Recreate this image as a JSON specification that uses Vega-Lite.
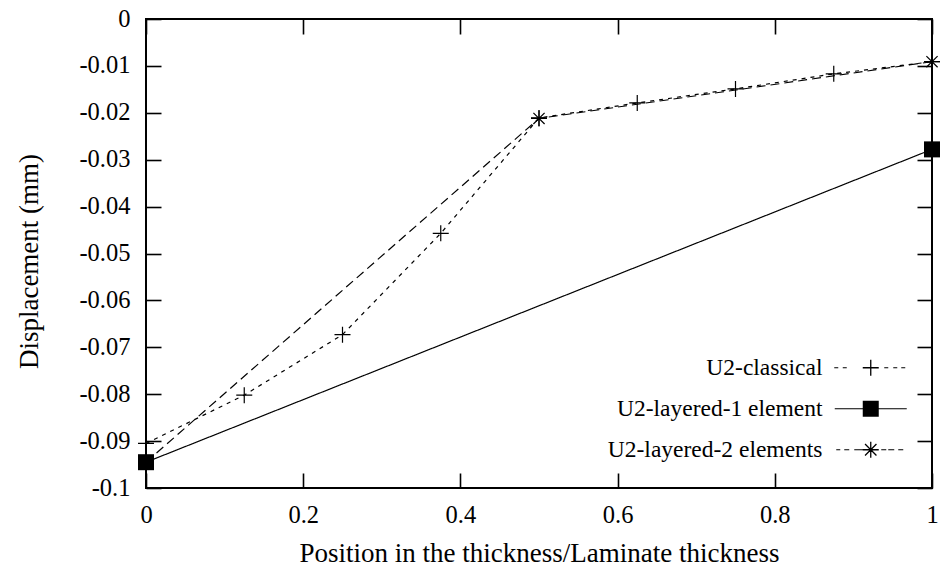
{
  "$schema": "https://vega.github.io/schema/vega-lite/v6.json",
  "width": 786,
  "height": 469,
  "autosize": "none",
  "padding": {"left": 146, "top": 19, "right": 8, "bottom": 80},
  "background": "white",
  "config": {
    "font": "Liberation Serif",
    "view": {"stroke": "black", "strokeWidth": 2},
    "axis": {
      "grid": false,
      "domain": false,
      "tickColor": "black",
      "tickWidth": 1.6,
      "tickSize": -15,
      "labelFont": "Liberation Serif",
      "labelFontSize": 24.5,
      "labelColor": "black",
      "labelOverlap": false,
      "labelFlush": false,
      "titleFont": "Liberation Serif",
      "titleFontSize": 27,
      "titleFontWeight": "normal",
      "titleColor": "black"
    }
  },
  "data": {
    "values": [
      {"series": "U2-classical", "x": 0, "y": -0.0905},
      {"series": "U2-classical", "x": 0.125, "y": -0.0802},
      {"series": "U2-classical", "x": 0.25, "y": -0.0673},
      {"series": "U2-classical", "x": 0.375, "y": -0.0457},
      {"series": "U2-classical", "x": 0.5, "y": -0.0211},
      {"series": "U2-classical", "x": 0.625, "y": -0.0179},
      {"series": "U2-classical", "x": 0.75, "y": -0.0149},
      {"series": "U2-classical", "x": 0.875, "y": -0.0117},
      {"series": "U2-classical", "x": 1, "y": -0.0091},
      {"series": "U2-layered-1 element", "x": 0, "y": -0.0945},
      {"series": "U2-layered-1 element", "x": 1, "y": -0.0278},
      {"series": "U2-layered-2 elements", "x": 0, "y": -0.0945},
      {"series": "U2-layered-2 elements", "x": 0.5, "y": -0.0212},
      {"series": "U2-layered-2 elements", "x": 1, "y": -0.0091}
    ]
  },
  "layer": [
    {
      "mark": {"type": "line", "strokeWidth": 1.2, "color": "black"},
      "encoding": {
        "x": {
          "field": "x", "type": "quantitative",
          "scale": {"domain": [0, 1], "nice": false},
          "axis": {
            "orient": "bottom",
            "values": [0, 0.2, 0.4, 0.6, 0.8, 1],
            "format": "~g",
            "labelPadding": 30,
            "title": "Position in the thickness/Laminate thickness",
            "titleBaseline": "alphabetic",
            "titleY": 73
          }
        },
        "y": {
          "field": "y", "type": "quantitative",
          "scale": {"domain": [-0.1, 0], "nice": false, "zero": false},
          "axis": {
            "orient": "left",
            "values": [0, -0.01, -0.02, -0.03, -0.04, -0.05, -0.06, -0.07, -0.08, -0.09, -0.1],
            "labelExpr": "datum.value == 0 ? '0' : '-' + format(-datum.value, '.2~f')",
            "labelPadding": 31,
            "title": "Displacement (mm)",
            "titleAngle": -90,
            "titleBaseline": "alphabetic",
            "titleX": -109,
            "titleY": 242
          }
        },
        "strokeDash": {
          "field": "series", "type": "nominal",
          "scale": {
            "domain": ["U2-layered-1 element", "U2-classical", "U2-layered-2 elements"],
            "range": [[1, 0], [4, 5], [9, 5]]
          },
          "legend": null
        }
      }
    },
    {
      "transform": [{"filter": "datum.series === 'U2-classical'"}],
      "mark": {"type": "point", "shape": "M-1,0H1M0,-1V1", "fill": "transparent", "stroke": "black", "strokeWidth": 1.2, "opacity": 1, "size": 256},
      "encoding": {
        "x": {
          "field": "x", "type": "quantitative",
          "scale": {"domain": [0, 1], "nice": false},
          "axis": {"orient": "top", "values": [0, 0.2, 0.4, 0.6, 0.8, 1], "labels": false, "title": null}
        },
        "y": {
          "field": "y", "type": "quantitative",
          "scale": {"domain": [-0.1, 0], "nice": false, "zero": false},
          "axis": {"orient": "right", "values": [0, -0.01, -0.02, -0.03, -0.04, -0.05, -0.06, -0.07, -0.08, -0.09, -0.1], "labels": false, "title": null}
        }
      }
    },
    {
      "transform": [{"filter": "datum.series === 'U2-layered-1 element'"}],
      "mark": {"type": "point", "shape": "square", "filled": true, "color": "black", "opacity": 1, "size": 256},
      "encoding": {
        "x": {"field": "x", "type": "quantitative", "scale": {"domain": [0, 1], "nice": false}, "axis": null},
        "y": {"field": "y", "type": "quantitative", "scale": {"domain": [-0.1, 0], "nice": false, "zero": false}, "axis": null}
      }
    },
    {
      "transform": [{"filter": "datum.series === 'U2-layered-2 elements'"}],
      "mark": {"type": "point", "shape": "M-1,0H1M0,-1V1M-0.7,-0.7L0.7,0.7M-0.7,0.7L0.7,-0.7", "fill": "transparent", "stroke": "black", "strokeWidth": 1.2, "opacity": 1, "size": 256},
      "encoding": {
        "x": {"field": "x", "type": "quantitative", "scale": {"domain": [0, 1], "nice": false}, "axis": null},
        "y": {"field": "y", "type": "quantitative", "scale": {"domain": [-0.1, 0], "nice": false, "zero": false}, "axis": null}
      }
    },
    {
      "transform": [{"filter": "false"}],
      "mark": {"type": "point", "filled": true, "color": "black", "size": 400},
      "encoding": {
        "x": {"field": "x", "type": "quantitative", "scale": {"domain": [0, 1], "nice": false}, "axis": null},
        "y": {"field": "y", "type": "quantitative", "scale": {"domain": [-0.1, 0], "nice": false, "zero": false}, "axis": null},
        "shape": {
          "field": "series", "type": "nominal",
          "scale": {
            "domain": ["U2-classical", "U2-layered-1 element", "U2-layered-2 elements"],
            "range": [
              "M-3.65,-0.06H-3.25V0.06H-3.65ZM-2.8,-0.06H-2.4V0.06H-2.8ZM-0.8,-0.065H0.8V0.065H-0.8ZM-0.065,-0.8H0.065V0.8H-0.065ZM1.35,-0.06H1.75V0.06H1.35ZM2.25,-0.06H2.65V0.06H2.25ZM3.05,-0.06H3.45V0.06H3.05Z",
              "M-3.6,-0.06H3.6V0.06H-3.6ZM-0.8,-0.8H0.8V0.8H-0.8Z",
              "M-3.45,-0.06H-3.05V0.06H-3.45ZM-2.65,-0.06H-2.15V0.06H-2.65ZM-1.65,-0.06H-0.75V0.06H-1.65ZM-0.8,-0.065H0.8V0.065H-0.8ZM-0.065,-0.8H0.065V0.8H-0.065ZM-0.524,-0.616L0.616,0.524L0.524,0.616L-0.616,-0.524ZM-0.616,0.524L0.524,-0.616L0.616,-0.524L-0.524,0.616ZM1.05,-0.06H1.55V0.06H1.05ZM1.75,-0.06H2.35V0.06H1.75ZM2.75,-0.06H3.25V0.06H2.75Z"
            ]
          },
          "legend": {
            "title": null,
            "orient": "none",
            "legendX": 713,
            "legendY": 337,
            "padding": 0,
            "symbolSize": 400,
            "symbolStrokeWidth": 0,
            "symbolOpacity": 1,
            "symbolFillColor": "black",
            "labelFont": "Liberation Serif",
            "labelFontSize": 23.5,
            "labelColor": "black",
            "labelAlign": "right",
            "labelOffset": -60,
            "labelLimit": 400,
            "rowPadding": 16
          }
        }
      }
    }
  ],
  "resolve": {"axis": {"x": "independent", "y": "independent"}}
}
